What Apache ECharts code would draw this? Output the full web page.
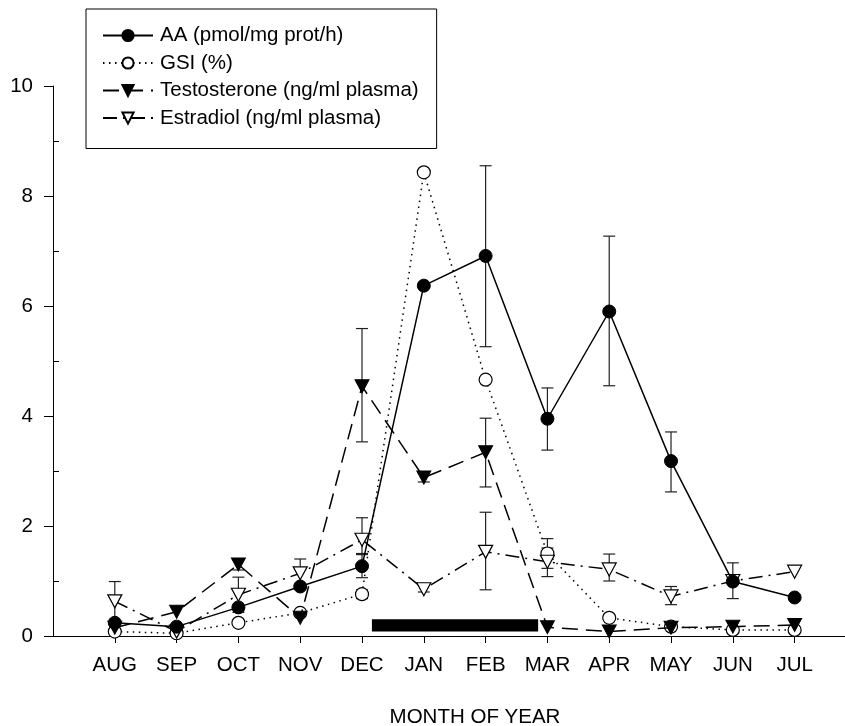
<!DOCTYPE html>
<html>
<head>
<meta charset="utf-8">
<script src="https://cdn.jsdelivr.net/npm/echarts@6/dist/echarts.min.js"></script>
<style>
html,body{margin:0;padding:0;background:#fff;}
#chart{width:845px;height:726px;}
</style>
</head>
<body>
<div id="chart"></div>
<script>
const months = ['AUG','SEP','OCT','NOV','DEC','JAN','FEB','MAR','APR','MAY','JUN','JUL'];
const yTicks = [0, 2, 4, 6, 8, 10];
const yMinorTicks = [1, 3, 5, 7, 9];

const aa     = [0.24, 0.17, 0.52, 0.90, 1.27, 6.37, 6.91, 3.95, 5.90, 3.18, 0.99, 0.70];
const aaLow  = [null, null, null, null, 1.06, null, 5.26, 3.38, 4.55, 2.62, 0.68, null];
const aaHigh = [null, null, null, null, 1.48, null, 8.55, 4.51, 7.27, 3.71, 1.33, null];

const gsi     = [0.08, 0.05, 0.24, 0.42, 0.76, 8.43, 4.66, 1.50, 0.33, 0.17, 0.11, 0.11];
const gsiLow  = [null, null, null, null, 0.68, null, null, 1.23, null, null, null, null];
const gsiHigh = [null, null, null, null, 0.84, null, null, 1.77, null, null, null, null];

const testo     = [0.15, 0.44, 1.30, 0.33, 4.54, 2.88, 3.34, 0.16, 0.08, 0.15, 0.17, 0.20];
const testoLow  = [null, null, 1.20, null, 3.53, 2.80, 2.71, null, null, null, null, null];
const testoHigh = [null, null, 1.40, null, 5.59, 2.95, 3.96, null, null, null, null, null];

const estr     = [0.63, 0.08, 0.75, 1.14, 1.75, 0.85, 1.53, 1.35, 1.21, 0.72, 1.00, 1.17];
const estrLow  = [0.27, null, 0.43, 0.88, 1.50, 0.80, 0.84, 1.08, 1.00, 0.57, null, null];
const estrHigh = [0.99, null, 1.07, 1.40, 2.15, 0.92, 2.25, 1.60, 1.49, 0.90, null, null];

// spawning period bar: [xStart, xEnd, yLow, yHigh] in axis units
const spawnBar = [[4.16, 6.85, 0.08, 0.305]];

const names = ['AA (pmol/mg prot/h)', 'GSI (%)', 'Testosterone (ng/ml plasma)', 'Estradiol (ng/ml plasma)'];
const FONT = 'Liberation Sans, Arial, sans-serif';
const FS = 20.5;

function pts(arr){ return arr.map((v,i)=>[i,v]); }
function errs(lo, hi){
  const out = [];
  lo.forEach((l,i)=>{ if(l!=null && hi[i]!=null) out.push([i,l,hi[i]]); });
  return out;
}
function errSeries(lo, hi){
  return {
    type:'custom', data: errs(lo,hi), encode:{x:0,y:[1,2]}, z:1, silent:true,
    renderItem:function(params, api){
      const x = api.value(0);
      const p1 = api.coord([x, api.value(1)]);
      const p2 = api.coord([x, api.value(2)]);
      const cw = 6;
      const st = {stroke:'#222', lineWidth:1.2};
      return {type:'group', children:[
        {type:'line', shape:{x1:p1[0],y1:p1[1],x2:p2[0],y2:p2[1]}, style:st},
        {type:'line', shape:{x1:p1[0]-cw,y1:p1[1],x2:p1[0]+cw,y2:p1[1]}, style:st},
        {type:'line', shape:{x1:p2[0]-cw,y1:p2[1],x2:p2[0]+cw,y2:p2[1]}, style:st}
      ]};
    }
  };
}

const chart = echarts.init(document.getElementById('chart'), null, {renderer:'canvas'});
chart.setOption({
  animation:false,
  backgroundColor:'#fff',
  textStyle:{fontFamily:FONT},
  grid:{left:53, right:0, top:86, bottom:90, containLabel:false},
  legend:{
    data:names, orient:'vertical', left:86, top:9,
    borderColor:'#000', borderWidth:1, backgroundColor:'#fff',
    padding:[16,18,20,16], itemWidth:50, itemHeight:14, itemGap:6.5,
    textStyle:{fontFamily:FONT, fontSize:FS, color:'#000', padding:[0,0,0,2]},
    z:10
  },
  xAxis:{
    type:'value', min:-1, max:11.815,
    axisLine:{show:true, onZero:false, lineStyle:{color:'#000', width:1}},
    axisTick:{show:true, length:7, lineStyle:{color:'#000'}, customValues:months.map((m,i)=>i)},
    axisLabel:{show:true, margin:19, fontSize:FS, color:'#000', fontFamily:FONT,
      customValues:months.map((m,i)=>i), formatter:function(v){ return months[Math.round(v)]; }},
    splitLine:{show:false}
  },
  yAxis:[{
    type:'value', min:0, max:10, interval:2,
    axisLine:{show:true, onZero:false, lineStyle:{color:'#000', width:1}},
    axisTick:{show:true, length:9, lineStyle:{color:'#000'}, customValues:yTicks},
    axisLabel:{show:true, margin:20, fontSize:FS, color:'#000', fontFamily:FONT, customValues:yTicks},
    splitLine:{show:false}
  },{
    type:'value', min:0, max:10, position:'left',
    axisLine:{show:false, onZero:false},
    axisTick:{show:true, inside:true, length:6, lineStyle:{color:'#000'}, customValues:yMinorTicks},
    axisLabel:{show:false},
    splitLine:{show:false}
  }],
  graphic:[{
    type:'text', x:475, y:717,
    style:{text:'MONTH OF YEAR', fontSize:FS, fontFamily:FONT, fill:'#000', align:'center', verticalAlign:'middle'}
  }],
  series:[
    errSeries(aaLow, aaHigh),
    errSeries(gsiLow, gsiHigh),
    errSeries(testoLow, testoHigh),
    errSeries(estrLow, estrHigh),
    {
      name:names[1], type:'line', data:pts(gsi), z:3,
      symbol:'circle', symbolSize:13,
      itemStyle:{color:'#fff', borderColor:'#000', borderWidth:1.2},
      lineStyle:{color:'#000', width:1.5, type:[1.5,4.5]}
    },
    {
      name:names[3], type:'line', data:pts(estr), z:3,
      symbol:'triangle', symbolRotate:180, symbolSize:[14,13],
      itemStyle:{color:'#fff', borderColor:'#000', borderWidth:1.2},
      lineStyle:{color:'#000', width:1.5, type:[14,6,2,6]}
    },
    {
      name:names[2], type:'line', data:pts(testo), z:4,
      symbol:'triangle', symbolRotate:180, symbolSize:[14,13],
      itemStyle:{color:'#000', borderColor:'#000', borderWidth:1},
      lineStyle:{color:'#000', width:1.5, type:[16,8]}
    },
    {
      name:names[0], type:'line', data:pts(aa), z:5,
      symbol:'circle', symbolSize:13,
      itemStyle:{color:'#000', borderColor:'#000', borderWidth:1},
      lineStyle:{color:'#000', width:1.5, type:'solid'}
    },
    {
      type:'custom', data:spawnBar, encode:{x:[0,1], y:[2,3]}, z:2, silent:true,
      renderItem:function(params, api){
        const a = api.coord([api.value(0), api.value(3)]);
        const b = api.coord([api.value(1), api.value(2)]);
        return {type:'rect', shape:{x:a[0], y:a[1], width:b[0]-a[0], height:b[1]-a[1]}, style:{fill:'#000'}};
      }
    }
  ]
});
</script>
</body>
</html>
